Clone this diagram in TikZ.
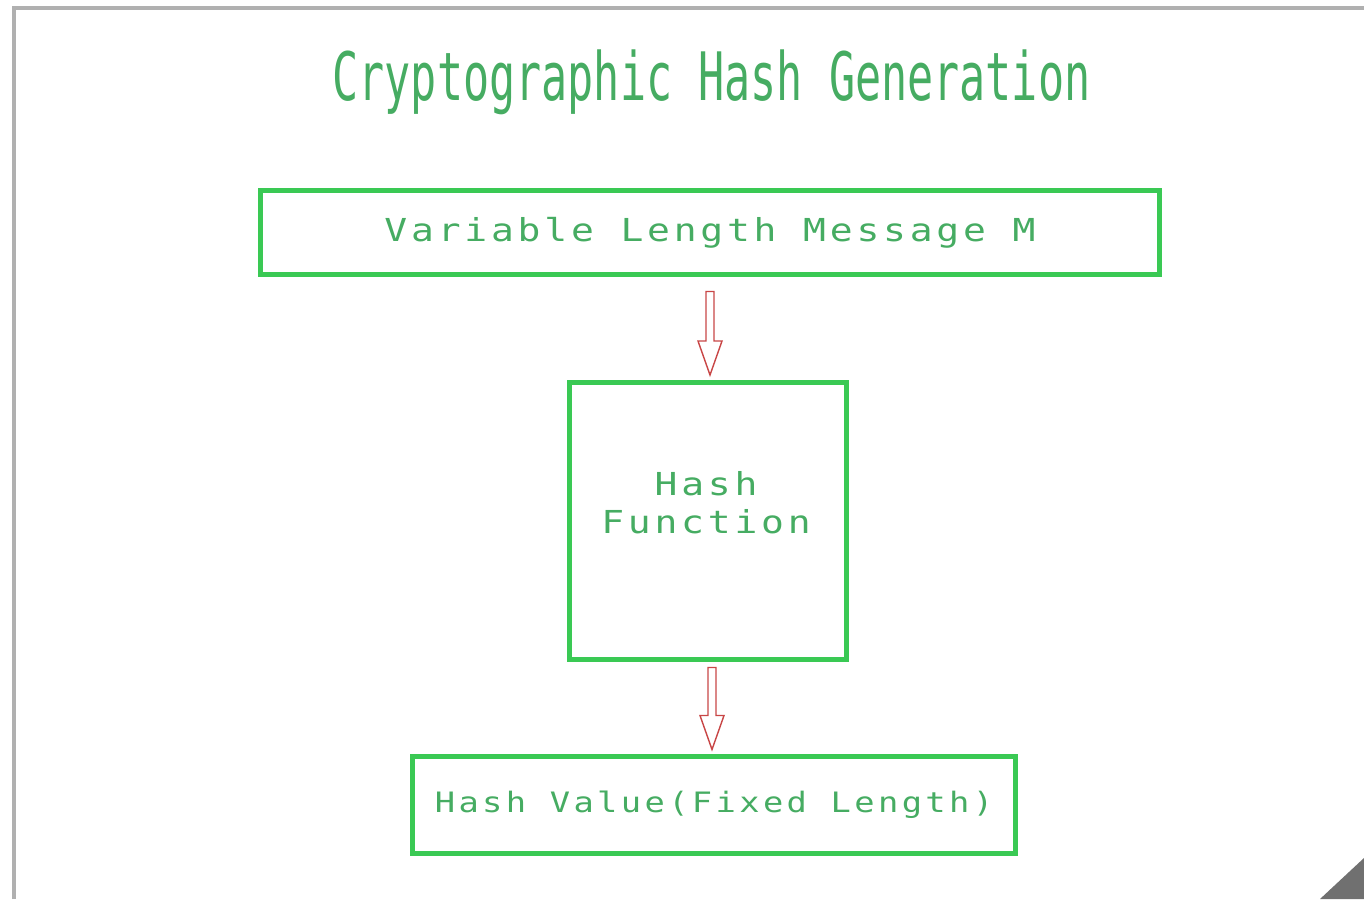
\documentclass[tikz,border=0pt]{standalone}
\usepackage{fontspec}
\usetikzlibrary{positioning,calc}
\newfontfamily\boxfont[FakeStretch=1.2,LetterSpace=12]{DejaVu Sans Mono}
\newfontfamily\titlefont[FakeStretch=0.65]{DejaVu Sans Mono}
\definecolor{boxgreen}{RGB}{58,201,84}
\definecolor{textgreen}{RGB}{70,172,98}
\definecolor{arrowred}{RGB}{200,70,70}
\definecolor{framegray}{RGB}{176,176,176}
\definecolor{cornergray}{RGB}{112,112,112}

\begin{document}
\begin{tikzpicture}[
  stage/.style={draw=boxgreen, line width=2.85pt, inner sep=0pt, align=center,
    text=textgreen, font=\boxfont\fontsize{18}{24}\selectfont},
  blockarrow/.style={draw=arrowred, line width=0.8pt, line join=miter,
    to path={($(\tikztostart)+(-0.08,0)$)
      -- ($(\tikztostart|-\tikztotarget)+(-0.08,0.68)$)
      -- ($(\tikztostart|-\tikztotarget)+(-0.24,0.68)$)
      -- (\tikztostart|-\tikztotarget)
      -- ($(\tikztostart|-\tikztotarget)+(0.24,0.68)$)
      -- ($(\tikztostart|-\tikztotarget)+(0.08,0.68)$)
      -- ($(\tikztostart)+(0.08,0)$) -- cycle}}
]
  \useasboundingbox (0,0) rectangle (27.28,-17.98);

  % Frame of the screenshot
  \draw[framegray, line width=2.3pt] (0.28,-17.98) -- (0.28,-0.16) -- (27.28,-0.16);
  \fill[cornergray] (26.4,-17.98) -- (27.28,-17.16) -- (27.28,-17.98) -- cycle;

  % Title
  \node[text=textgreen, font=\titlefont\fontsize{38}{42}\selectfont, anchor=base]
    (title) at (14.23,-2.0) {Cryptographic Hash Generation};

  % Stages (top to bottom)
  \node[stage, minimum width=17.98cm, minimum height=1.68cm]
    (msg) at (14.2,-4.65) {Variable Length Message M};
  \node[stage, minimum width=5.54cm, minimum height=5.54cm]
    (hashfn) at (14.16,-10.42) {};
  \node[text=textgreen, font=\boxfont\fontsize{18}{21.5}\selectfont, align=center]
    (hashfntext) at (14.12,-10.06) {Hash\\Function};
  \node[stage, minimum width=12.06cm, minimum height=1.94cm,
    font=\boxfont\fontsize{16}{22}\selectfont]
    (value) at (14.28,-16.1) {Hash Value(Fixed Length)};

  % Hollow arrows between stages
  \coordinate (arrA) at ($(msg.south)+(0,-0.29)$);
  \coordinate (arrB) at ($(hashfn.south)+(0.08,-0.11)$);
  \draw[blockarrow] (arrA) to ($(hashfn.north)+(0,0.1)$);
  \draw[blockarrow] (arrB) to ($(value.north)+(0,0.09)$);
\end{tikzpicture}
\end{document}
